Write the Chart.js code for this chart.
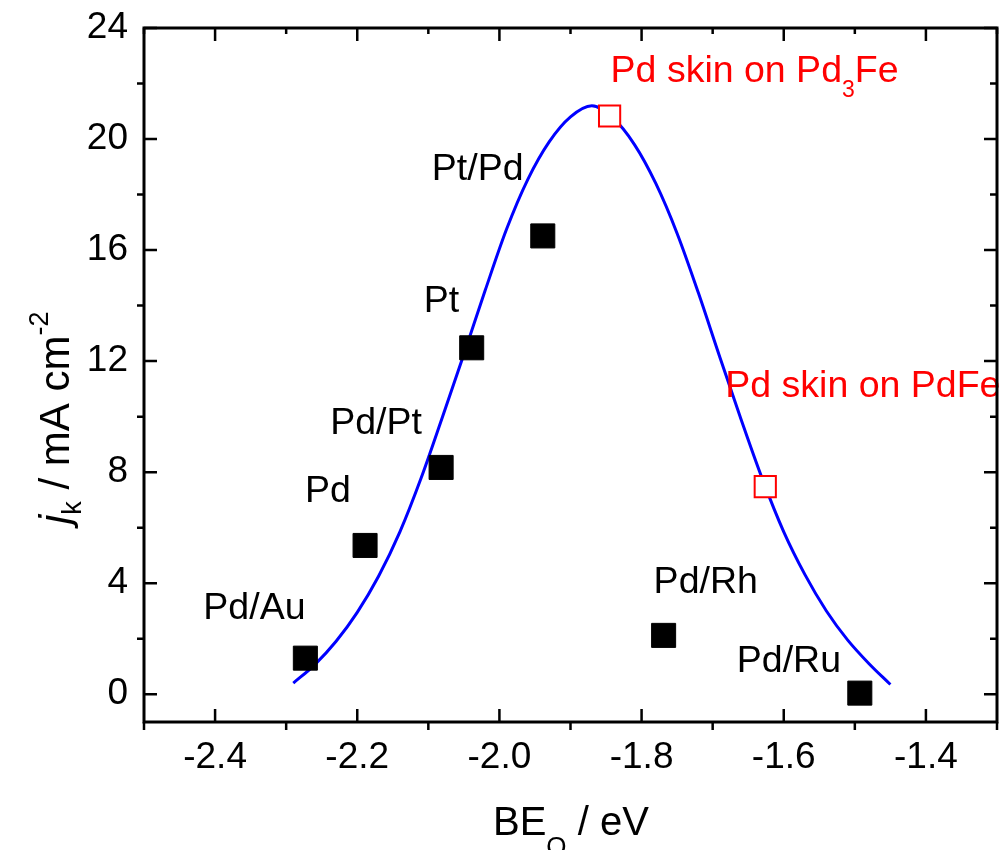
<!DOCTYPE html>
<html>
<head>
<meta charset="utf-8">
<script src="https://cdn.jsdelivr.net/npm/chart.js@4/dist/chart.umd.min.js"></script>
<style>
  body { margin: 0; background: #fff; }
  canvas { display: block; }
</style>
</head>
<body>
<canvas id="volcano" width="999" height="850"></canvas>
<script>
// measured catalysts (black squares)
const alloyNames = ['Pd/Au', 'Pd', 'Pd/Pt', 'Pt', 'Pt/Pd', 'Pd/Rh', 'Pd/Ru'];
const alloyBE = [-2.273, -2.189, -2.082, -2.039, -1.939, -1.769, -1.493];
const alloyJk = [1.30, 5.36, 8.17, 12.48, 16.51, 2.12, 0.04];

// Pd skin predictions (red open squares)
const skinNames = ['Pd skin on Pd3Fe', 'Pd skin on PdFe'];
const skinBE = [-1.845, -1.626];
const skinJk = [20.83, 7.48];

// volcano curve
const fitBE = [-2.29, -2.26, -2.23, -2.20, -2.17, -2.14, -2.11, -2.08, -2.05, -2.02,
  -1.99, -1.96, -1.93, -1.90, -1.87, -1.84, -1.81, -1.78, -1.75, -1.72,
  -1.69, -1.66, -1.63, -1.60, -1.57, -1.54, -1.51, -1.48, -1.45];
const fitJk = [0.40, 1.06, 1.90, 2.95, 4.25, 5.85, 7.80, 10.00, 12.25, 14.55,
  16.75, 18.55, 19.90, 20.80, 21.20, 20.75, 19.80, 18.40, 16.60, 14.45,
  12.15, 9.90, 7.75, 5.85, 4.30, 3.00, 1.95, 1.10, 0.35];

const xTicks = [-2.4, -2.2, -2.0, -1.8, -1.6, -1.4];
const xMinor = [-2.5, -2.3, -2.1, -1.9, -1.7, -1.5, -1.3];
const yTicks = [0, 4, 8, 12, 16, 20, 24];
const yMinor = [2, 6, 10, 14, 18, 22];

const FONT = '"Liberation Sans", Arial, sans-serif';
const LABEL_SIZE = 37.5;

// draw a run of text pieces (sub/superscripts) left to right
function richText(ctx, parts, x, y) {
  let cx = x;
  parts.forEach(p => {
    ctx.font = (p.italic ? 'italic ' : '') + p.size + 'px ' + FONT;
    ctx.fillText(p.t, cx, y + (p.dy || 0));
    cx += ctx.measureText(p.t).width;
  });
}

// text offsets from each marker (px)
const alloyOffsets = [[-102, -39], [-60, -43], [-111, -33], [-48, -36], [-111, -56], [-10, -42], [-123, -21]];
const skinOffsets = [[1, -34], [-40, -90]];

const labelsPlugin = {
  id: 'labels',
  afterDatasetsDraw(chart) {
    const { ctx, scales: { x, y } } = chart;
    ctx.save();
    ctx.textAlign = 'left';
    ctx.textBaseline = 'alphabetic';
    ctx.fillStyle = '#000';
    alloyNames.forEach((name, i) => {
      const px = x.getPixelForValue(alloyBE[i]) + alloyOffsets[i][0];
      const py = y.getPixelForValue(alloyJk[i]) + alloyOffsets[i][1];
      richText(ctx, [{ t: name, size: LABEL_SIZE }], px, py);
    });
    ctx.fillStyle = '#ff0000';
    let px = x.getPixelForValue(skinBE[0]) + skinOffsets[0][0];
    let py = y.getPixelForValue(skinJk[0]) + skinOffsets[0][1];
    richText(ctx, [{ t: 'Pd skin on Pd', size: LABEL_SIZE }, { t: '3', size: 23, dy: 15 },
      { t: 'Fe', size: LABEL_SIZE }], px, py);
    px = x.getPixelForValue(skinBE[1]) + skinOffsets[1][0];
    py = y.getPixelForValue(skinJk[1]) + skinOffsets[1][1];
    richText(ctx, [{ t: skinNames[1], size: LABEL_SIZE }], px, py);
    ctx.restore();
  }
};

const framePlugin = {
  id: 'frame',
  afterDraw(chart) {
    const { ctx, chartArea: a, scales: { x, y } } = chart;
    ctx.save();
    ctx.strokeStyle = '#000';
    ctx.lineWidth = 3;
    ctx.strokeRect(a.left, a.top, a.right - a.left, a.bottom - a.top);
    ctx.lineWidth = 2.5;
    ctx.beginPath();
    xTicks.forEach(v => {
      const p = x.getPixelForValue(v);
      ctx.moveTo(p, a.bottom); ctx.lineTo(p, a.bottom - 13);
      ctx.moveTo(p, a.top); ctx.lineTo(p, a.top + 13);
    });
    xMinor.forEach(v => {
      const p = x.getPixelForValue(v);
      ctx.moveTo(p, a.bottom); ctx.lineTo(p, a.bottom + 8);
      ctx.moveTo(p, a.top); ctx.lineTo(p, a.top + 6);
    });
    yTicks.forEach(v => {
      const p = y.getPixelForValue(v);
      ctx.moveTo(a.left, p); ctx.lineTo(a.left + 13, p);
      ctx.moveTo(a.right, p); ctx.lineTo(a.right - 13, p);
    });
    yMinor.forEach(v => {
      const p = y.getPixelForValue(v);
      ctx.moveTo(a.left, p); ctx.lineTo(a.left - 7, p);
      ctx.moveTo(a.right, p); ctx.lineTo(a.right - 7, p);
    });
    ctx.stroke();

    // axis titles
    ctx.fillStyle = '#000';
    ctx.textBaseline = 'alphabetic';
    ctx.textAlign = 'left';
    richText(ctx, [{ t: 'BE', size: 40 }, { t: 'O', size: 26, dy: 20 }, { t: ' / eV', size: 40 }], 493, 835);
    ctx.translate(69, 524);
    ctx.rotate(-Math.PI / 2);
    richText(ctx, [{ t: 'j', size: 42, italic: true }, { t: 'k', size: 27, dy: 12 },
      { t: ' / mA cm', size: 42 }, { t: '-2', size: 27, dy: -21 }], 0, 0);
    ctx.restore();
  }
};

const ctx = document.getElementById('volcano');

const volcanoChart = new Chart(ctx, {
  type: 'scatter',
  data: {
    datasets: [
      {
        label: 'skin',
        data: skinBE.map((v, i) => ({ x: v, y: skinJk[i] })),
        pointStyle: 'rect',
        pointRadius: 15,
        pointBackgroundColor: '#fff',
        pointBorderColor: '#ff0000',
        pointBorderWidth: 2,
        order: 0,
      },
      {
        label: 'alloys',
        data: alloyBE.map((v, i) => ({ x: v, y: alloyJk[i] })),
        pointStyle: 'rect',
        pointRadius: 17,
        pointBackgroundColor: '#000',
        pointBorderColor: '#000',
        pointBorderWidth: 1,
        order: 1,
      },
      {
        label: 'fit',
        data: fitBE.map((v, i) => ({ x: v, y: fitJk[i] })),
        showLine: true,
        pointRadius: 0,
        borderColor: '#0000ff',
        borderWidth: 3,
        cubicInterpolationMode: 'monotone',
        order: 2,
      },
    ]
  },
  options: {
    responsive: false,
    animation: false,
    layout: { autoPadding: false, padding: { left: 0, right: 2, top: 28, bottom: 0 } },
    plugins: { legend: { display: false }, tooltip: { enabled: false } },
    scales: {
      x: {
        min: -2.5,
        max: -1.3,
        grid: { display: false, drawTicks: false },
        border: { display: false },
        afterBuildTicks: s => { s.ticks = xTicks.map(v => ({ value: v })); },
        afterFit: s => { s.height = 128; s.paddingLeft = 0; s.paddingRight = 0; },
        ticks: {
          autoSkip: false,
          maxRotation: 0,
          padding: 14,
          color: '#000',
          font: { family: FONT, size: 37 },
          callback: v => v.toFixed(1),
        }
      },
      y: {
        min: -1,
        max: 24,
        grid: { display: false, drawTicks: false },
        border: { display: false },
        afterBuildTicks: s => { s.ticks = yTicks.map(v => ({ value: v })); },
        afterFit: s => { s.width = 144; s.paddingTop = 0; s.paddingBottom = 0; },
        ticks: {
          autoSkip: false,
          padding: 16,
          color: '#000',
          font: { family: FONT, size: 37 },
          callback: v => String(v),
        }
      }
    }
  },
  plugins: [framePlugin, labelsPlugin]
});
</script>
</body>
</html>
